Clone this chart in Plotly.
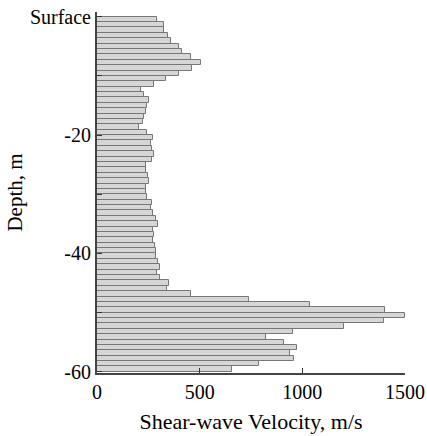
import plotly.graph_objects as go

# Shear-wave velocity (m/s) per layer, from surface downward
velocity = [291, 326, 326, 344, 360, 401, 415, 456, 506, 464,
            401, 336, 279, 214, 230, 252, 245, 240, 230, 225,
            206, 245, 273, 264, 266, 278, 269, 239, 240, 248,
            252, 237, 237, 243, 268, 263, 273, 287, 296, 271,
            276, 274, 281, 287, 286, 297, 307, 290, 307, 352,
            339, 458, 742, 1039, 1404, 1501, 1396, 1201, 954, 824,
            909, 974, 938, 961, 790, 659]
total_depth = 60.0
n_layers = len(velocity)
thickness = total_depth / n_layers
depth_mid = [-(i + 0.5) * thickness for i in range(n_layers)]

y_tickvals = [0, -10, -20, -30, -40, -50, -60]
y_ticktext = ["Surface", "", "-20", "", "-40", "", "-60"]
x_tickvals = [0, 500, 1000, 1500]

font_family = "Liberation Serif, Times New Roman, serif"

fig = go.Figure(go.Bar(
    x=velocity, y=depth_mid, orientation="h", width=thickness,
    marker=dict(color="#d6d6d6", line=dict(color="#777777", width=1)),
    hoverinfo="x+y",
))

fig.update_layout(
    width=427, height=436,
    margin=dict(l=97, r=22, t=12, b=63),
    paper_bgcolor="white", plot_bgcolor="white",
    showlegend=False, bargap=0,
    font=dict(family=font_family, size=20, color="black"),
)
fig.update_xaxes(
    range=[0, 1500], tickvals=x_tickvals, ticks="inside", ticklen=5,
    tickcolor="#333", showline=True, linecolor="#444", linewidth=2,
    showgrid=False, zeroline=False, automargin=False,
    title=dict(text="Shear-wave Velocity, m/s", font=dict(size=22), standoff=12),
    tickfont=dict(size=20),
)
fig.update_yaxes(
    range=[-60.2, 0.8], tickvals=y_tickvals, ticktext=y_ticktext,
    ticks="inside", ticklen=5, tickcolor="#333",
    showline=True, linecolor="#444", linewidth=2,
    showgrid=False, zeroline=False, automargin=False,
    title=dict(text="Depth, m", font=dict(size=21), standoff=2),
    tickfont=dict(size=20),
)

fig.write_html("out.html")
